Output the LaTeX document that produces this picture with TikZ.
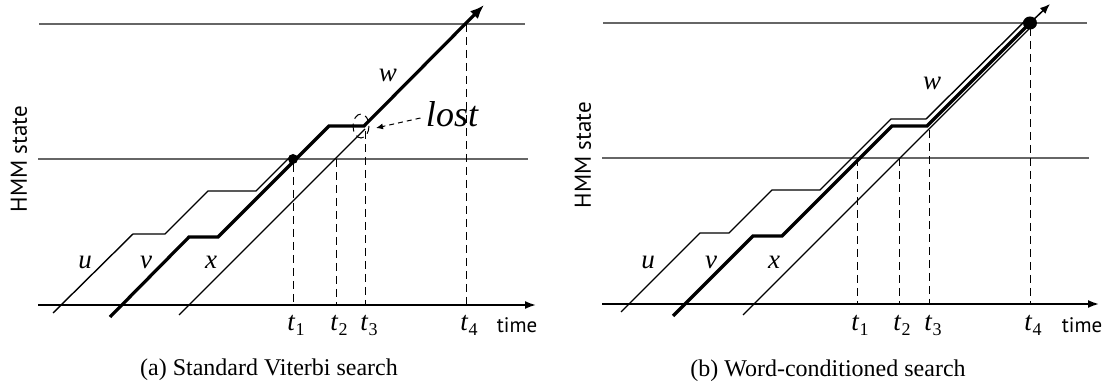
\documentclass[tikz,border=0pt]{standalone}
\usepackage{fontspec}
\setmainfont{Liberation Serif}
\setsansfont{PT Sans}
\usetikzlibrary{arrows.meta}
\newcommand{\tsub}[1]{\textit{t}\raisebox{-0.35ex}{\fontsize{18}{18}\selectfont #1}}
\begin{document}
\begin{tikzpicture}[x=1pt,y=-1pt,
  refline/.style={line width=1.2pt, black!60},
  axisline/.style={line width=1.8pt, -{Latex[length=11pt,width=8pt]}},
  lpath/.style={line width=1.4pt, line join=miter},
  hpath/.style={line width=3.2pt, line join=miter},
  guide/.style={line width=1pt, dash pattern=on 8pt off 5pt},
  var/.style={font=\fontsize{27}{29}\selectfont\itshape},
  tlab/.style={font=\fontsize{27}{29}\selectfont, anchor=base},
  sanslab/.style={font=\sffamily\fontsize{21}{24}\selectfont},
  vlab/.style={font=\sffamily\fontsize{23}{26}\selectfont, rotate=90},
  caption/.style={font=\fontsize{24}{27}\selectfont}
]
\useasboundingbox (0,0) rectangle (1112,387);

% ---------------- panel (a) ----------------
\draw[refline] (39,24) -- (525,24);
\draw[refline] (38,159) -- (528,159);
\draw[axisline] (38,305) -- (536,305);

\draw[guide] (293,164) -- (293,305);
\draw[guide] (336,159) -- (336,305);
\draw[guide] (365,131) -- (365,305);
\draw[guide] (466,24) -- (466,305);
\draw[guide] (361,126) ellipse [x radius=8, y radius=12];

\draw[lpath] (53,313) -- (133,234) -- (165,234) -- (208,191) -- (256,191) -- (291,156);
\draw[hpath, -{Latex[length=14pt,width=11pt]}] (110,317) -- (189,237) -- (218,237) -- (329,126) -- (364,126) -- (484,5);
\draw[lpath] (179,315) -- (365,129);
\fill (293,159) circle (5);

\node[var] (ua) at (85,262) {u};
\node[var] (va) at (146,262) {v};
\node[var] (xa) at (211,262) {x};
\node[var] (wa) at (388,75) {w};
\node[font=\fontsize{36}{38}\selectfont\itshape] (lost) at (452,114) {lost};
\coordinate (lostend) at (376,128);
\draw[line width=1pt, dash pattern=on 5pt off 4pt, -{Latex[length=7pt,width=6pt]}] (lost.west) ++(-2,4) -- (lostend);

\node[tlab] (t1a) at (296,331) {\tsub{1}};
\node[tlab] (t2a) at (339,331) {\tsub{2}};
\node[tlab] (t3a) at (369,331) {\tsub{3}};
\node[tlab] (t4a) at (469,331) {\tsub{4}};
\node[sanslab, anchor=base] (timea) at (517,333) {time};
\node[vlab] (hmma) at (19,159) {HMM state};
\node[caption] (capa) at (269,370) {(a) Standard Viterbi search};

% ---------------- panel (b) ----------------
\draw[refline] (603,23) -- (1087,23);
\draw[refline] (602,158) -- (1089,158);
\draw[axisline] (602,304) -- (1099,304);

\draw[guide] (857,158) -- (857,304);
\draw[guide] (899,158) -- (899,304);
\draw[guide] (929,130) -- (929,304);
\draw[guide] (1030,28) -- (1030,304);

\draw[lpath] (621,312) -- (700,233) -- (729,233) -- (772,190) -- (820,190) -- (891,119) -- (926,119) -- (1026,20);
\draw[hpath] (673,316) -- (753,236) -- (782,236) -- (892,126) -- (927,126) -- (1030,23);
\draw[lpath] (743,315) -- (1033,25);
\fill (1030,23) ellipse [x radius=7, y radius=6.5];
\draw[line width=1.5pt, -{Latex[length=10pt,width=8pt]}] (1030,23) -- (1050,4);

\node[var] (ub) at (648,262) {u};
\node[var] (vb) at (711,262) {v};
\node[var] (xb) at (774,262) {x};
\node[var] (wb) at (932,83) {w};

\node[tlab] (t1b) at (860,331) {\tsub{1}};
\node[tlab] (t2b) at (902,331) {\tsub{2}};
\node[tlab] (t3b) at (933,331) {\tsub{3}};
\node[tlab] (t4b) at (1033,331) {\tsub{4}};
\node[sanslab, anchor=base] (timeb) at (1082,333) {time};
\node[vlab] (hmmb) at (583,155) {HMM state};
\node[caption] (capb) at (828,371) {(b) Word-conditioned search};
\end{tikzpicture}
\end{document}
